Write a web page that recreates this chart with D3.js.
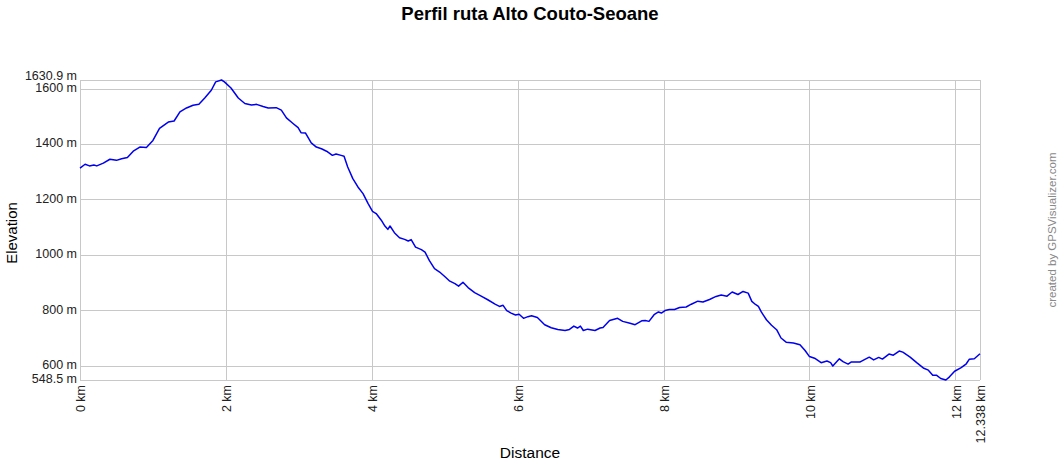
<!DOCTYPE html>
<html lang="es">
<head>
    <meta charset="UTF-8">
    <title>Perfil ruta Alto Couto-Seoane</title>
    <script src="https://d3js.org/d3.v7.min.js"></script>
    <style>
        body { margin: 0; background: #fff; }
        text { font-family: Arial, "Liberation Sans", sans-serif; }
    </style>
</head>
<body>
<div id="chart"></div>
<script>
    // distance along the route (km)
    let distances = [0, 0.07, 0.13, 0.19, 0.23, 0.32, 0.41, 0.50, 0.57, 0.65, 0.73, 0.82, 0.91, 1.00, 1.09,
        1.21, 1.29, 1.37, 1.46, 1.55, 1.63, 1.71, 1.80, 1.86, 1.94, 1.98, 2.07, 2.17, 2.26, 2.35,
        2.42, 2.51, 2.58, 2.69, 2.76, 2.83, 2.92, 2.99, 3.03, 3.09, 3.17, 3.24, 3.31, 3.38, 3.46,
        3.51, 3.58, 3.62, 3.67, 3.74, 3.81, 3.88, 3.95, 4.01, 4.06, 4.13, 4.18, 4.22, 4.25, 4.31,
        4.38, 4.45, 4.50, 4.54, 4.60, 4.68, 4.73, 4.79, 4.86, 4.93, 5.00, 5.07, 5.14, 5.19, 5.25,
        5.32, 5.41, 5.50, 5.59, 5.69, 5.75, 5.80, 5.85, 5.91, 5.97, 6.02, 6.08, 6.14, 6.19, 6.27,
        6.37, 6.46, 6.55, 6.65, 6.71, 6.77, 6.82, 6.86, 6.90, 6.96, 7.06, 7.13, 7.17, 7.26, 7.37,
        7.44, 7.54, 7.61, 7.70, 7.75, 7.80, 7.87, 7.93, 7.97, 8.02, 8.08, 8.15, 8.22, 8.31, 8.38,
        8.47, 8.54, 8.63, 8.72, 8.79, 8.87, 8.94, 9.02, 9.09, 9.16, 9.21, 9.26, 9.30, 9.34, 9.41,
        9.48, 9.55, 9.61, 9.68, 9.78, 9.87, 9.94, 10.00, 10.07, 10.16, 10.24, 10.29, 10.32, 10.41,
        10.46, 10.53, 10.57, 10.69, 10.76, 10.82, 10.88, 10.95, 11.00, 11.09, 11.15, 11.23, 11.28,
        11.38, 11.47, 11.56, 11.63, 11.69, 11.74, 11.80, 11.87, 11.92, 11.99, 12.08, 12.15, 12.19,
        12.26, 12.338];

    // elevation (m)
    let elevations = [1313, 1327, 1321, 1324, 1321, 1331, 1345, 1341, 1347, 1351, 1374, 1389, 1387, 1413, 1456,
        1479, 1483, 1516, 1530, 1540, 1543, 1566, 1594, 1624, 1630.9, 1624, 1602, 1566, 1546, 1541,
        1543, 1535, 1530, 1531, 1522, 1494, 1474, 1459, 1441, 1440, 1404, 1389, 1383, 1374, 1359,
        1364, 1359, 1356, 1317, 1275, 1245, 1221, 1185, 1157, 1149, 1125, 1104, 1092, 1104, 1080,
        1062, 1056, 1050, 1055, 1028, 1019, 1010, 979, 950, 938, 922, 905, 896, 887, 901,
        882, 864, 851, 838, 822, 814, 818, 799, 790, 783, 786, 771, 777, 780, 774,
        748, 737, 731, 727, 731, 743, 736, 743, 727, 732, 727, 736, 738, 763, 771,
        760, 753, 748, 762, 763, 760, 784, 794, 790, 799, 803, 803, 810, 812, 822,
        833, 830, 839, 850, 855, 851, 866, 857, 868, 862, 832, 821, 814, 794, 766,
        746, 730, 700, 685, 682, 676, 655, 633, 627, 611, 617, 611, 599, 625,
        615, 606, 613, 613, 623, 631, 621, 630, 624, 642, 638, 653, 649,
        631, 611, 592, 584, 566, 566, 554, 548.5, 560, 580, 593, 607, 623,
        625, 643];

    let xTicks = [0, 2, 4, 6, 8, 10, 12, 12.338];
    let yTicks = [548.5, 600, 800, 1000, 1200, 1400, 1600, 1630.9];

    let margin = {top: 80, right: 80, bottom: 80, left: 80};
    let width = 1060 - margin.left - margin.right;
    let height = 460 - margin.top - margin.bottom;

    let svg = d3.select('#chart')
        .append('svg')
        .attr('width', 1060)
        .attr('height', 460);

    let g = svg.append('g')
        .attr('transform', 'translate(' + margin.left + ',' + margin.top + ')');

    let x = d3.scaleLinear()
        .domain([0, 12.338])
        .range([0, width]);

    let y = d3.scaleLinear()
        .domain([548.5, 1630.9])
        .range([height, 0]);

    // grid
    g.append('g')
        .selectAll('line')
        .data(xTicks)
        .enter()
        .append('line')
        .attr('x1', d => Math.round(x(d)) + 0.5)
        .attr('x2', d => Math.round(x(d)) + 0.5)
        .attr('y1', 0)
        .attr('y2', height)
        .attr('stroke', '#c8c8c8');

    g.append('g')
        .selectAll('line')
        .data(yTicks)
        .enter()
        .append('line')
        .attr('x1', 0)
        .attr('x2', width)
        .attr('y1', d => Math.round(y(d)) + 0.5)
        .attr('y2', d => Math.round(y(d)) + 0.5)
        .attr('stroke', '#c8c8c8');

    // left frame
    g.append('line')
        .attr('x1', 0.5).attr('x2', 0.5)
        .attr('y1', 0).attr('y2', height)
        .attr('stroke', '#c8c8c8');

    // tick labels (top/bottom extremes nudged so they don't collide)
    g.append('g')
        .selectAll('text')
        .data(yTicks)
        .enter()
        .append('text')
        .attr('x', -3)
        .attr('y', d => y(d) - (d === 1630.9 ? 4.5 : 1))
        .attr('dy', '0.35em')
        .attr('text-anchor', 'end')
        .attr('font-size', 12.5)
        .attr('fill', '#222')
        .text(d => d + ' m');

    g.append('g')
        .selectAll('text')
        .data(xTicks)
        .enter()
        .append('text')
        .attr('transform', d => 'translate(' + (x(d) + 1) + ',' + (height + 5) + ') rotate(-90)')
        .attr('dy', '0.35em')
        .attr('text-anchor', 'end')
        .attr('font-size', 12.5)
        .attr('fill', '#222')
        .text(d => d + ' km');

    // elevation profile
    let points = distances.map((d, i) => [d, elevations[i]]);
    let line = d3.line()
        .x(d => x(d[0]))
        .y(d => y(d[1]));

    g.append('path')
        .datum(points)
        .attr('d', line)
        .attr('fill', 'none')
        .attr('stroke', '#0000ee')
        .attr('stroke-width', 1.5)
        .attr('stroke-linejoin', 'round');

    // titles
    svg.append('text')
        .attr('x', 530)
        .attr('y', 20)
        .attr('text-anchor', 'middle')
        .attr('font-size', 18.5)
        .attr('font-weight', 'bold')
        .text('Perfil ruta Alto Couto-Seoane');

    svg.append('text')
        .attr('x', 530)
        .attr('y', 458)
        .attr('text-anchor', 'middle')
        .attr('font-size', 15.5)
        .text('Distance');

    svg.append('text')
        .attr('transform', 'translate(17,233) rotate(-90)')
        .attr('text-anchor', 'middle')
        .attr('font-size', 15)
        .text('Elevation');

    svg.append('text')
        .attr('transform', 'translate(1056,230) rotate(-90)')
        .attr('text-anchor', 'middle')
        .attr('font-size', 11.5)
        .attr('fill', '#888')
        .text('created by GPSVisualizer.com');
</script>
</body>
</html>
